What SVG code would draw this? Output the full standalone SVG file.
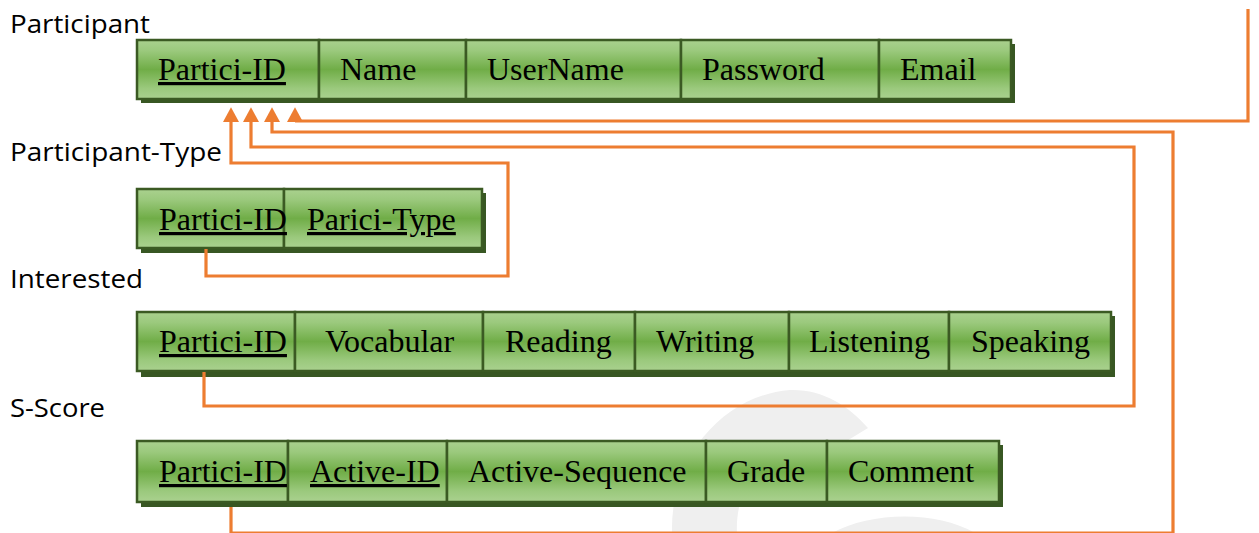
<svg xmlns="http://www.w3.org/2000/svg" width="1259" height="533" viewBox="0 0 1259 533">
<defs>
<linearGradient id="g" x1="0" y1="0" x2="0" y2="1">
<stop offset="0" stop-color="#aad18f"/>
<stop offset="0.18" stop-color="#9bc97d"/>
<stop offset="0.5" stop-color="#70ad47"/>
<stop offset="0.82" stop-color="#9bc97d"/>
<stop offset="1" stop-color="#aad18f"/>
</linearGradient>
<marker id="arr" markerUnits="userSpaceOnUse" markerWidth="16" markerHeight="16" viewBox="0 0 14 15" refX="1" refY="7.5" orient="auto">
<path d="M0 0 L14 7.5 L0 15 Z" fill="#ed7d31"/>
</marker>
</defs>
<style>
.cell{fill:url(#g);stroke:#3b5a23;stroke-width:2.5}
.sh{fill:#385723}
.t{font-family:"Liberation Serif","Times New Roman",serif;font-size:32px;fill:#000}
.u{text-decoration:underline}
.lbl{font-family:"Open Sans","Noto Sans",sans-serif;font-size:25px;fill:#000}
.c{fill:none;stroke:#ed7d31;stroke-width:3.2}
</style>
<rect width="1259" height="533" fill="#fff"/>
<g id="watermark" fill="#efefef">
<path d="M672 533 C670 455 725 395 790 390 C822 389 848 405 868 428 L812 462 C800 452 792 450 782 452 C752 460 735 500 737 533 Z"/>
<path d="M832 533 C870 512 935 510 975 533 Z"/>
</g>
<g id="label-participant"><text class="lbl" x="10" y="33" textLength="140" lengthAdjust="spacingAndGlyphs">Participant</text></g>
<g id="label-participant-type"><text class="lbl" x="10" y="161" textLength="212" lengthAdjust="spacingAndGlyphs">Participant-Type</text></g>
<g id="label-interested"><text class="lbl" x="10" y="288" textLength="133" lengthAdjust="spacingAndGlyphs">Interested</text></g>
<g id="label-sscore"><text class="lbl" x="10" y="417" textLength="95" lengthAdjust="spacingAndGlyphs">S-Score</text></g>

<g id="participant">
<rect class="sh" x="141" y="44" width="874" height="59"/>
<rect class="cell" x="137" y="40" width="182" height="59"/>
<rect class="cell" x="319" y="40" width="147" height="59"/>
<rect class="cell" x="466" y="40" width="215" height="59"/>
<rect class="cell" x="681" y="40" width="198" height="59"/>
<rect class="cell" x="879" y="40" width="132" height="59"/>
<text class="t u" x="158" y="80">Partici-ID</text>
<text class="t" x="340" y="80">Name</text>
<text class="t" x="487" y="80">UserName</text>
<text class="t" x="702" y="80">Password</text>
<text class="t" x="900" y="80">Email</text>
</g>

<g id="participant-type">
<rect class="sh" x="141" y="193" width="345" height="60"/>
<rect class="cell" x="137" y="189" width="147" height="59"/>
<rect class="cell" x="284" y="189" width="198" height="59"/>
<text class="t u" x="159" y="230">Partici-ID</text>
<text class="t u" x="307" y="230">Parici-Type</text>
</g>

<g id="interested">
<rect class="sh" x="141" y="316" width="974" height="61"/>
<rect class="cell" x="137" y="312" width="158" height="59"/>
<rect class="cell" x="295" y="312" width="188" height="59"/>
<rect class="cell" x="483" y="312" width="152" height="59"/>
<rect class="cell" x="635" y="312" width="154" height="59"/>
<rect class="cell" x="789" y="312" width="160" height="59"/>
<rect class="cell" x="949" y="312" width="162" height="59"/>
<text class="t u" x="159" y="352">Partici-ID</text>
<text class="t" x="325" y="352">Vocabular</text>
<text class="t" x="505" y="352">Reading</text>
<text class="t" x="656" y="352">Writing</text>
<text class="t" x="809" y="352">Listening</text>
<text class="t" x="971" y="352">Speaking</text>
</g>

<g id="s-score">
<rect class="sh" x="141" y="445" width="862" height="62"/>
<rect class="cell" x="137" y="441" width="151" height="61"/>
<rect class="cell" x="288" y="441" width="159" height="61"/>
<rect class="cell" x="447" y="441" width="259" height="61"/>
<rect class="cell" x="706" y="441" width="121" height="61"/>
<rect class="cell" x="827" y="441" width="172" height="61"/>
<text class="t u" x="159" y="482">Partici-ID</text>
<text class="t u" x="310" y="482">Active-ID</text>
<text class="t" x="468" y="482">Active-Sequence</text>
<text class="t" x="727" y="482">Grade</text>
<text class="t" x="848" y="482">Comment</text>
</g>

<g id="connectors">
<path class="c" d="M206 249 V276 H508 V163 H231 V121" marker-end="url(#arr)"/>
<path class="c" d="M204 372 V406 H1134 V147 H251 V121" marker-end="url(#arr)"/>
<path class="c" d="M231 507 V533 H1173 V132 H272 V121" marker-end="url(#arr)"/>
<path class="c" d="M1248 9 V121 H295 V121" />
<path class="c" d="M295 122 V121" marker-end="url(#arr)"/>
</g>
</svg>
